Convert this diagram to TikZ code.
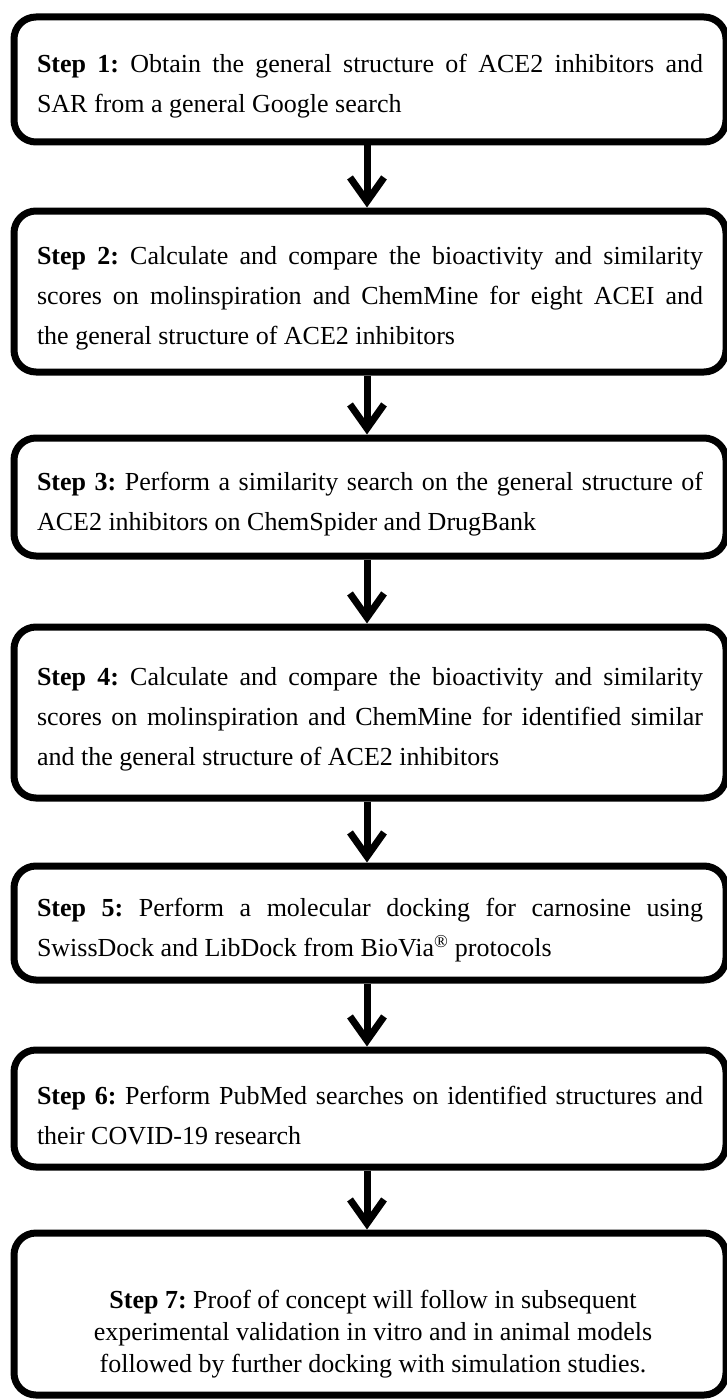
\documentclass[tikz,border=0pt]{standalone}
\usepackage{fontspec}
\setmainfont{Liberation Serif}
\usepackage{tikz}
\usetikzlibrary{arrows.meta}
\frenchspacing

\begin{document}
\begin{tikzpicture}[x=1pt,y=1pt,
        stepbox/.style={draw=black, line width=7pt, rounded corners=22pt, minimum width=712pt, text width=666pt, inner xsep=23pt, align=justify, font=\fontsize{26}{40}\selectfont, execute at begin node={\rule{0pt}{32pt}}},
        flowarrow/.style={line width=7pt, -{Straight Barb[length=24pt,width=34pt]}}]
        \useasboundingbox (0,0) rectangle (726,-1399);
        \node[stepbox, minimum height=125pt] (s1) at (370,-79.5) {\textbf{Step 1:} Obtain the general structure of ACE2 inhibitors and\linebreak SAR from a general Google search};
        \node[stepbox, minimum height=161pt] (s2) at (370,-291.5) {\textbf{Step 2:} Calculate and compare the bioactivity and similarity\linebreak scores on molinspiration and ChemMine for eight ACEI and\linebreak the general structure of ACE2 inhibitors};
        \node[stepbox, minimum height=118pt] (s3) at (370,-497) {\textbf{Step 3:} Perform a similarity search on the general structure of\linebreak ACE2 inhibitors on ChemSpider and DrugBank};
        \node[stepbox, minimum height=171pt] (s4) at (370,-712.5) {\textbf{Step 4:} Calculate and compare the bioactivity and similarity\linebreak scores on molinspiration and ChemMine for identified similar\linebreak and the general structure of ACE2 inhibitors};
        \node[stepbox, minimum height=114pt] (s5) at (370,-923) {\textbf{Step 5:} Perform a molecular docking for carnosine using\linebreak SwissDock and LibDock from BioVia\textsuperscript{\textregistered} protocols};
        \node[stepbox, minimum height=117pt] (s6) at (370,-1108.5) {\textbf{Step 6:} Perform PubMed searches on identified structures and\linebreak their COVID-19 research};
        \node[stepbox, minimum height=162pt] (s7) at (370,-1314) {};
        \node[font=\fontsize{26}{32}\selectfont, align=center] (t7) at (373,-1334) {\textbf{Step 7:} Proof of concept will follow in subsequent\\experimental validation in vitro and in animal models\\followed by further docking with simulation studies.};
        \draw[flowarrow] ([xshift=-3pt]s1.south) -- ([xshift=-3pt]s2.north);
        \draw[flowarrow] ([xshift=-3pt]s2.south) -- ([xshift=-3pt]s3.north);
        \draw[flowarrow] ([xshift=-3pt]s3.south) -- ([xshift=-3pt]s4.north);
        \draw[flowarrow] ([xshift=-3pt]s4.south) -- ([xshift=-3pt]s5.north);
        \draw[flowarrow] ([xshift=-3pt]s5.south) -- ([xshift=-3pt]s6.north);
        \draw[flowarrow] ([xshift=-3pt]s6.south) -- ([xshift=-3pt]s7.north);
    \end{tikzpicture}
\end{document}
